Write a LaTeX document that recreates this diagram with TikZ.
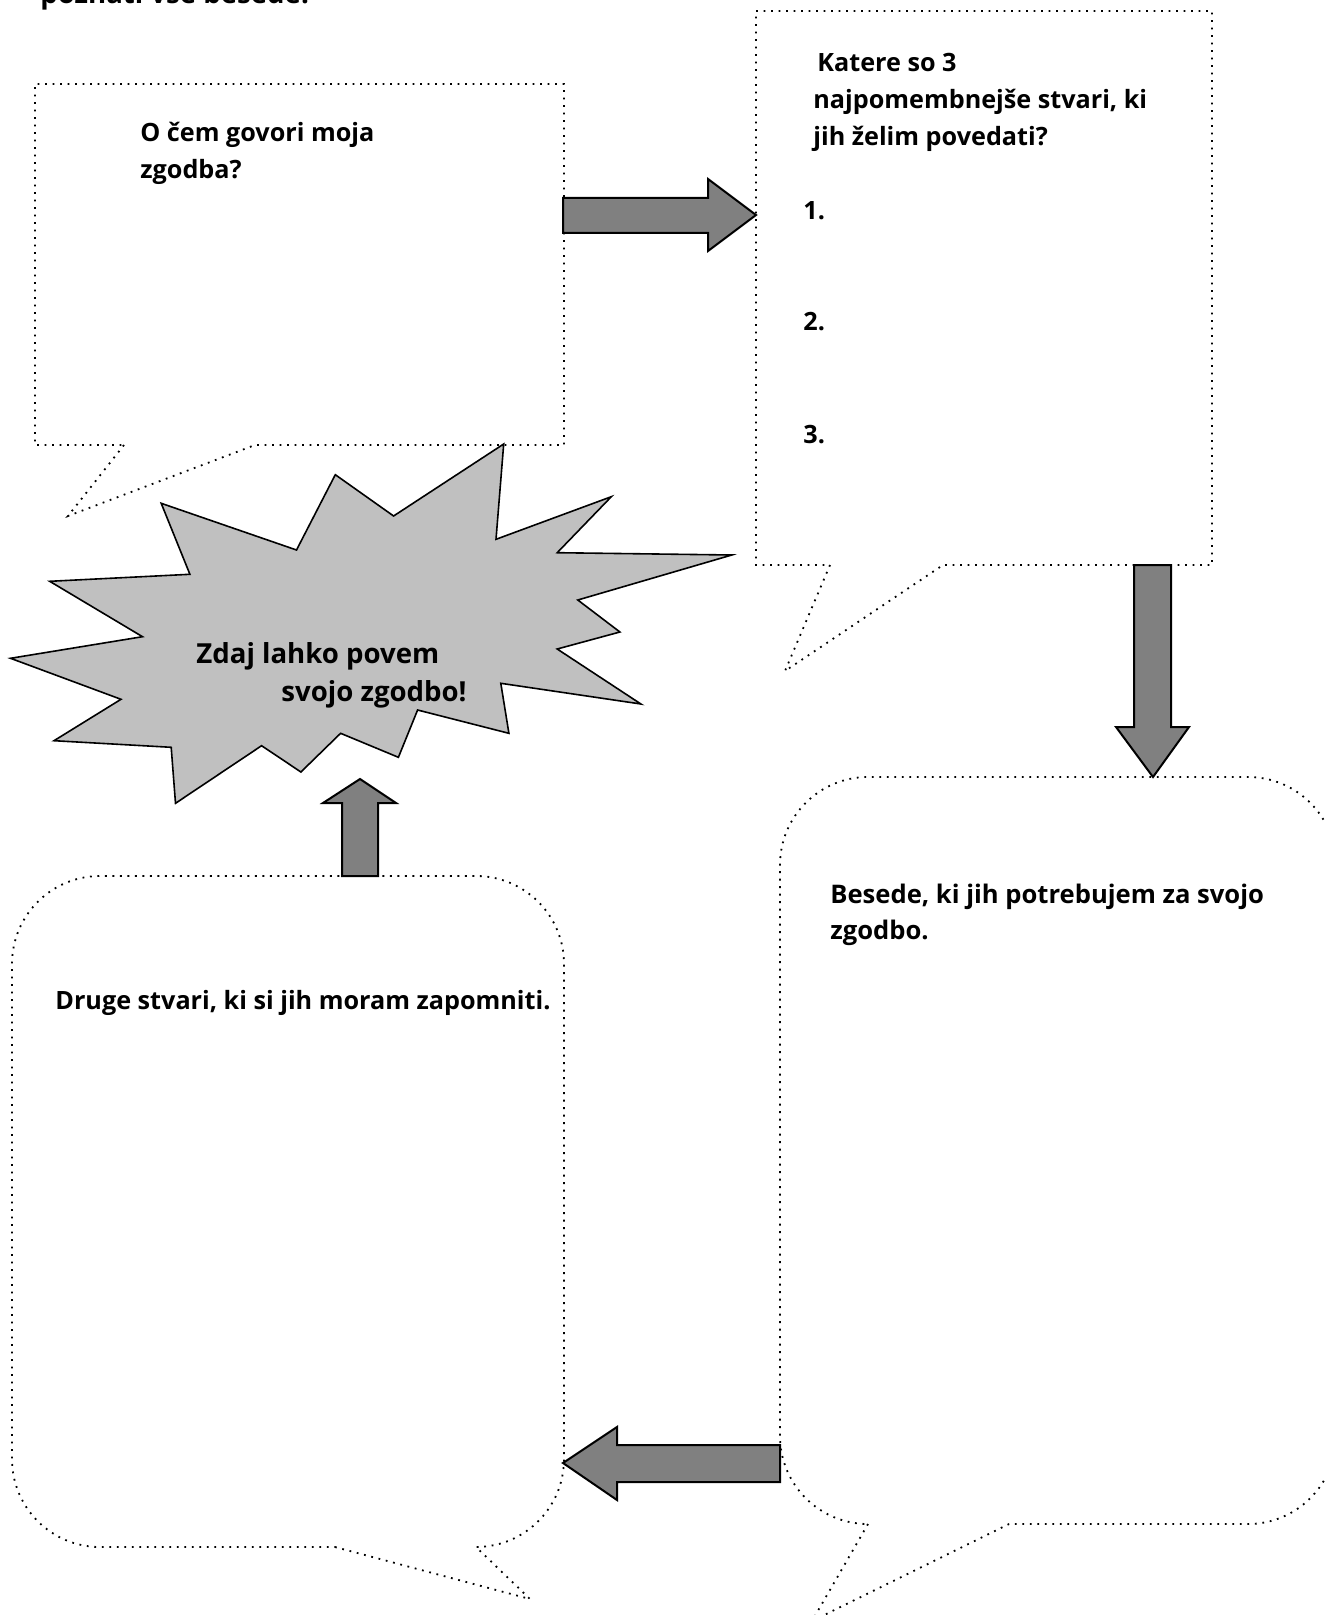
\documentclass[tikz,border=0pt]{standalone}
\usepackage{fontspec}
\setmainfont{Open Sans}
\definecolor{arrowgray}{HTML}{808080}
\definecolor{stargray}{HTML}{C0C0C0}
\begin{document}
\begin{tikzpicture}[x=0.5pt,y=-0.5pt,
  dotline/.style={line width=0.9pt, dash pattern=on 0.9pt off 2.85pt},
  blockarrow/.style={fill=arrowgray, draw=black, line width=1pt, line join=miter},
  burst/.style={fill=stargray, draw=black, line width=0.8pt, line join=miter},
  txt/.style={font=\fontsize{12.6}{18.5}\selectfont\bfseries, inner sep=0pt, anchor=base west, align=left},
  widetxt/.style={font=\fontsize{12.8}{18}\selectfont\bfseries, inner sep=0pt, anchor=base west, align=left},
  bigtxt/.style={font=\fontsize{13.8}{20}\selectfont\bfseries, inner sep=0pt, anchor=base west},
  toptxt/.style={font=\fontsize{13.8}{20}\selectfont\bfseries, inner sep=0pt, anchor=base west}]
\useasboundingbox (0,0) rectangle (1325,1615);
\fill[white] (0,0) rectangle (1325,1615);

% cut-off heading at top edge
\node[toptxt] (head) at (40,4) {poznati vse besede.};

% ---------- callouts ----------
% top-left rectangular callout
\draw[dotline] (124,445) -- (68,516) -- (255,445) -- (564,445) -- (564,84) -- (35,84) -- (35,445) -- cycle;
% top-right rectangular callout
\draw[dotline] (830,565) -- (785,671) -- (943,565) -- (1212,565) -- (1212,11) -- (756,11) -- (756,565) -- cycle;
% bottom-right rounded callout
\draw[dotline] (868,1524) -- (812,1621) -- (1009,1524) -- (1248,1524)
  .. controls (1296.6,1524) and (1336,1484.6) .. (1336,1436) -- (1336,865)
  .. controls (1336,816.4) and (1296.6,777) .. (1248,777) -- (868,777)
  .. controls (819.4,777) and (780,816.4) .. (780,865) -- (780,1436)
  .. controls (780,1484.6) and (819.4,1524) .. (868,1524) -- cycle;
% bottom-left rounded callout
\draw[dotline] (335,1547) -- (530,1599) -- (476,1547)
  .. controls (524.6,1547) and (564,1507.6) .. (564,1459) -- (564,964)
  .. controls (564,915.4) and (524.6,876) .. (476,876) -- (100,876)
  .. controls (51.4,876) and (12,915.4) .. (12,964) -- (12,1459)
  .. controls (12,1507.6) and (51.4,1547) .. (100,1547) -- cycle;

% ---------- burst ----------
\draw[burst] (503.7,444) -- (496.0,539.3) -- (611.3,496.7) -- (557.2,552.7) -- (731.8,555)
  -- (577.8,600) -- (619.9,632) -- (557.2,649) -- (640.9,704) -- (500.8,683.3)
  -- (508.9,733.3) -- (417.6,710) -- (398.4,757.3) -- (340.6,733.3) -- (300.9,772)
  -- (261.6,745.7) -- (175.5,803.3) -- (171.2,747.3) -- (54.0,740.7) -- (121.0,699.3)
  -- (10.5,658.3) -- (142.5,636.7) -- (49.7,581.3) -- (189.9,574.3) -- (161.2,503.3)
  -- (296.5,550) -- (335.3,474.7) -- (393.6,516) -- cycle;

% ---------- block arrows ----------
\draw[blockarrow] (563,198) -- (708,198) -- (708,179) -- (756,215) -- (708,251) -- (708,233) -- (563,233) -- cycle;
\draw[blockarrow] (1134,565) -- (1171,565) -- (1171,727) -- (1189,727) -- (1153,777) -- (1116,727) -- (1134,727) -- cycle;
\draw[blockarrow] (780,1445) -- (617,1445) -- (617,1427) -- (563,1463) -- (617,1500) -- (617,1482) -- (780,1482) -- cycle;
\draw[blockarrow] (342,876) -- (342,803) -- (323,803) -- (360,779) -- (396,803) -- (378,803) -- (378,876) -- cycle;

% ---------- texts (base anchor = last line) ----------
\node[txt] (q1) at (140,179) {O čem govori moja\\zgodba?};
\node[txt] (q2) at (813,146) {\hspace{2pt}Katere so 3\\najpomembnejše stvari, ki\\jih želim povedati?};
\node[txt] (n1) at (803,220) {1.};
\node[txt] (n2) at (803,331) {2.};
\node[txt] (n3) at (803,443) {3.};
\node[widetxt] (words) at (830,939) {Besede, ki jih potrebujem za svojo\\zgodbo.};
\node[txt] (other) at (55,1009) {Druge stvari, ki si jih moram zapomniti.};
\node[bigtxt] (now1) at (196,663) {Zdaj lahko povem};
\node[bigtxt] (now2) at (281,701) {svojo zgodbo!};
\end{tikzpicture}
\end{document}
